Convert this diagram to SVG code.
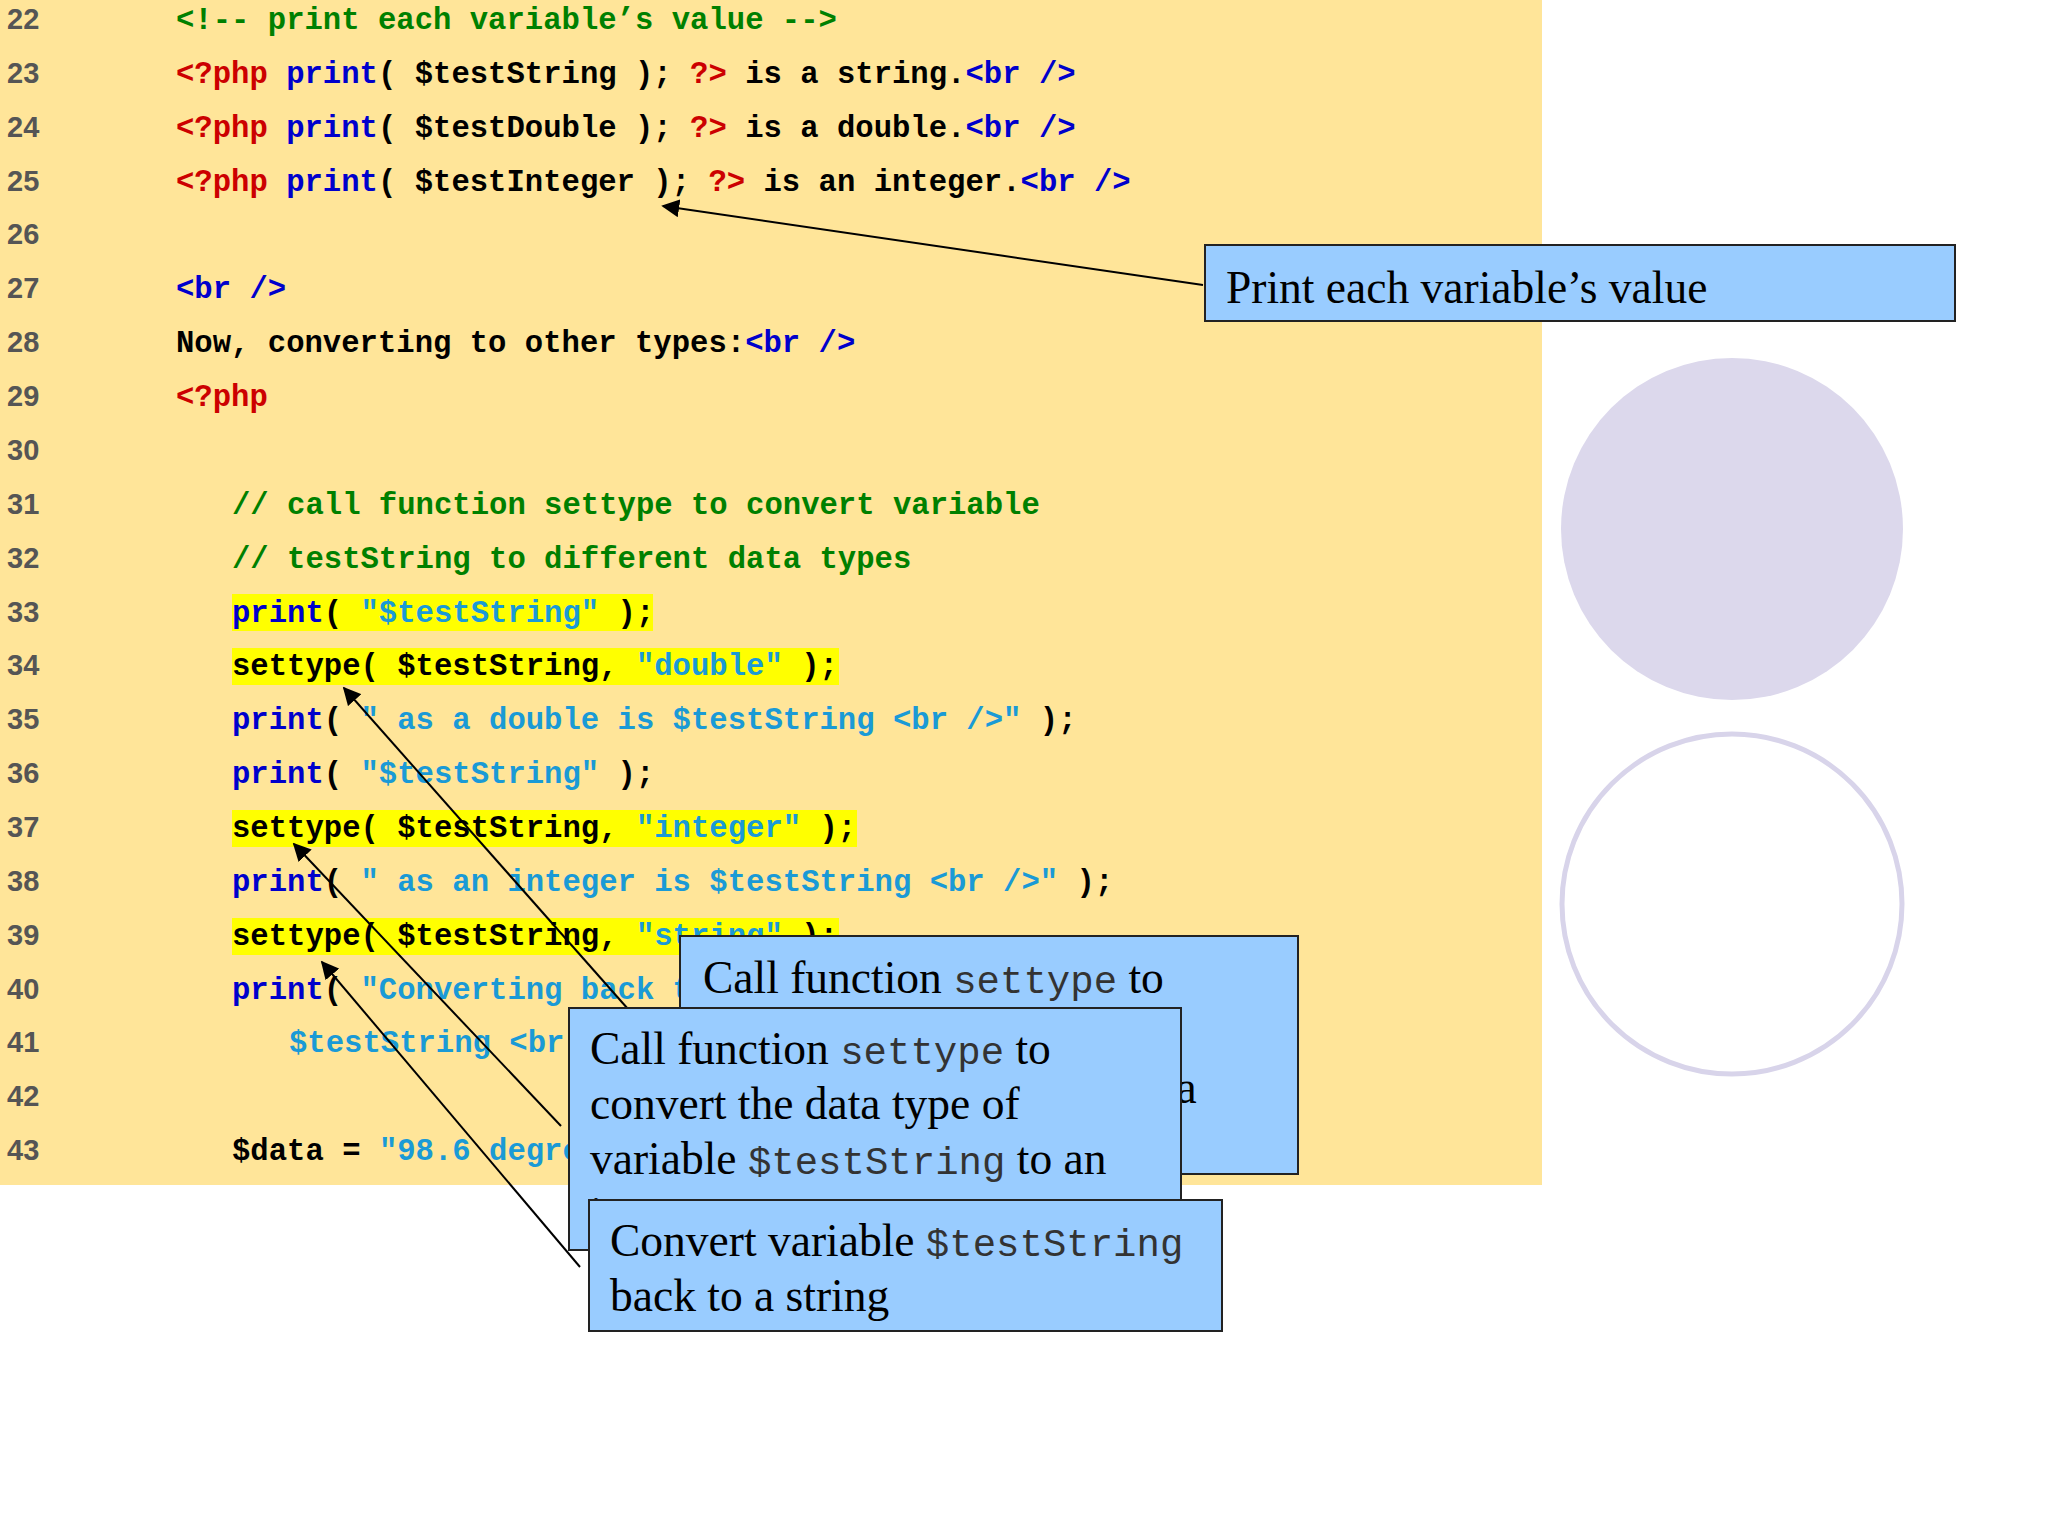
<svg xmlns="http://www.w3.org/2000/svg" width="2048" height="1536" viewBox="0 0 2048 1536">
<style>
.ln{font-family:"Liberation Sans",Arial,sans-serif;font-weight:bold;font-size:29px;fill:#555}
.c{font-family:"Liberation Mono","Courier New",monospace;font-weight:bold;font-size:30.6px;white-space:pre;fill:#000}
.r{fill:#cc0000}.b{fill:#0000cc}.g{fill:#008000}.s{fill:#1a9ad6}.k{fill:#000}
.hl{fill:#ffff00}
.box{fill:#99ccff;stroke:#222;stroke-width:2}
.t{font-family:"Liberation Serif","Times New Roman",serif;font-size:45.5px;fill:#000;white-space:pre}
.m{font-family:"Liberation Mono","Courier New",monospace;font-size:39px;fill:#333}
.con{stroke:#000;stroke-width:2;fill:none}
</style>
<defs>
<marker id="ah2" viewBox="0 0 10 10" refX="9" refY="5" markerWidth="18" markerHeight="18" markerUnits="userSpaceOnUse" orient="auto"><path d="M0,0L10,5L0,10z" fill="#000"/></marker>
</defs>
<rect width="2048" height="1536" fill="#fff"/>
<g id="code">
<rect x="0" y="0" width="1542" height="1185" fill="#ffe599"/>
<rect class="hl" x="232" y="594" width="421" height="37"/>
<rect class="hl" x="232" y="648" width="607" height="37"/>
<rect class="hl" x="232" y="810" width="625" height="37"/>
<rect class="hl" x="232" y="918" width="607" height="37"/>
<g class="ln">
<text x="7" y="29">22</text><text x="7" y="83">23</text><text x="7" y="137">24</text><text x="7" y="191">25</text>
<text x="7" y="244">26</text><text x="7" y="298">27</text><text x="7" y="352">28</text><text x="7" y="406">29</text>
<text x="7" y="460">30</text><text x="7" y="514">31</text><text x="7" y="568">32</text><text x="7" y="622">33</text>
<text x="7" y="675">34</text><text x="7" y="729">35</text><text x="7" y="783">36</text><text x="7" y="837">37</text>
<text x="7" y="891">38</text><text x="7" y="945">39</text><text x="7" y="999">40</text><text x="7" y="1052">41</text>
<text x="7" y="1106">42</text><text x="7" y="1160">43</text>
</g>
<text class="c g" x="176" y="29">&lt;!-- print each variable’s value --&gt;</text>
<text class="c" x="176" y="83"><tspan class="r">&lt;?php</tspan> <tspan class="b">print</tspan>( $testString ); <tspan class="r">?&gt;</tspan> is a string.<tspan class="b">&lt;br /&gt;</tspan></text>
<text class="c" x="176" y="137"><tspan class="r">&lt;?php</tspan> <tspan class="b">print</tspan>( $testDouble ); <tspan class="r">?&gt;</tspan> is a double.<tspan class="b">&lt;br /&gt;</tspan></text>
<text class="c" x="176" y="191"><tspan class="r">&lt;?php</tspan> <tspan class="b">print</tspan>( $testInteger ); <tspan class="r">?&gt;</tspan> is an integer.<tspan class="b">&lt;br /&gt;</tspan></text>
<text class="c b" x="176" y="298">&lt;br /&gt;</text>
<text class="c" x="176" y="352">Now, converting to other types:<tspan class="b">&lt;br /&gt;</tspan></text>
<text class="c r" x="176" y="406">&lt;?php</text>
<text class="c g" x="232" y="514">// call function settype to convert variable</text>
<text class="c g" x="232" y="568">// testString to different data types</text>
<text class="c" x="232" y="622"><tspan class="b">print</tspan>( <tspan class="s">"$testString"</tspan> );</text>
<text class="c" x="232" y="675">settype( $testString, <tspan class="s">"double"</tspan> );</text>
<text class="c" x="232" y="729"><tspan class="b">print</tspan>( <tspan class="s">" as a double is $testString &lt;br /&gt;"</tspan> );</text>
<text class="c" x="232" y="783"><tspan class="b">print</tspan>( <tspan class="s">"$testString"</tspan> );</text>
<text class="c" x="232" y="837">settype( $testString, <tspan class="s">"integer"</tspan> );</text>
<text class="c" x="232" y="891"><tspan class="b">print</tspan>( <tspan class="s">" as an integer is $testString &lt;br /&gt;"</tspan> );</text>
<text class="c" x="232" y="945">settype( $testString, <tspan class="s">"string"</tspan> );</text>
<text class="c" x="232" y="999"><tspan class="b">print</tspan>( <tspan class="s">"Converting back to a string results in</tspan></text>
<text class="c s" x="289" y="1052">$testString &lt;br /&gt;&lt;br /&gt;"<tspan class="k"> );</tspan></text>
<text class="c" x="232" y="1160">$data = <tspan class="s">"98.6 degrees"</tspan>;</text>
</g>
<g id="decor">
<circle cx="1732" cy="529" r="171" fill="#dcd8ec"/>
<circle cx="1732" cy="904" r="170" fill="none" stroke="#d8d4ea" stroke-width="5"/>
</g>
<g id="connectors">
<line class="con" x1="1203" y1="285" x2="663" y2="206" marker-end="url(#ah2)"/>
<line class="con" x1="628" y1="1009" x2="344" y2="688" marker-end="url(#ah2)"/>
<line class="con" x1="561" y1="1126" x2="294" y2="844" marker-end="url(#ah2)"/>
<line class="con" x1="580" y1="1267" x2="322" y2="962" marker-end="url(#ah2)"/>
</g>
<g id="callout1">
<rect class="box" x="1205" y="245" width="750" height="76"/>
<text class="t" x="1226" y="303">Print each variable’s value</text>
</g>
<g id="calloutA">
<rect class="box" x="680" y="936" width="618" height="238"/>
<text class="t" x="703" y="993">Call function <tspan class="m">settype</tspan> to</text>
<text class="t" x="703" y="1048">convert the data type of</text>
<text class="t" x="703" y="1103">variable <tspan class="m">$testString</tspan> to a</text>
<text class="t" x="703" y="1158">double</text>
</g>
<g id="calloutB">
<rect class="box" x="569" y="1008" width="612" height="242"/>
<text class="t" x="590" y="1064">Call function <tspan class="m">settype</tspan> to</text>
<text class="t" x="590" y="1119">convert the data type of</text>
<text class="t" x="590" y="1174">variable <tspan class="m">$testString</tspan> to an</text>
<text class="t" x="590" y="1229">integer</text>
</g>
<g id="calloutC">
<rect class="box" x="589" y="1200" width="633" height="131"/>
<text class="t" x="610" y="1256">Convert variable <tspan class="m">$testString</tspan></text>
<text class="t" x="610" y="1311">back to a string</text>
</g>
</svg>
